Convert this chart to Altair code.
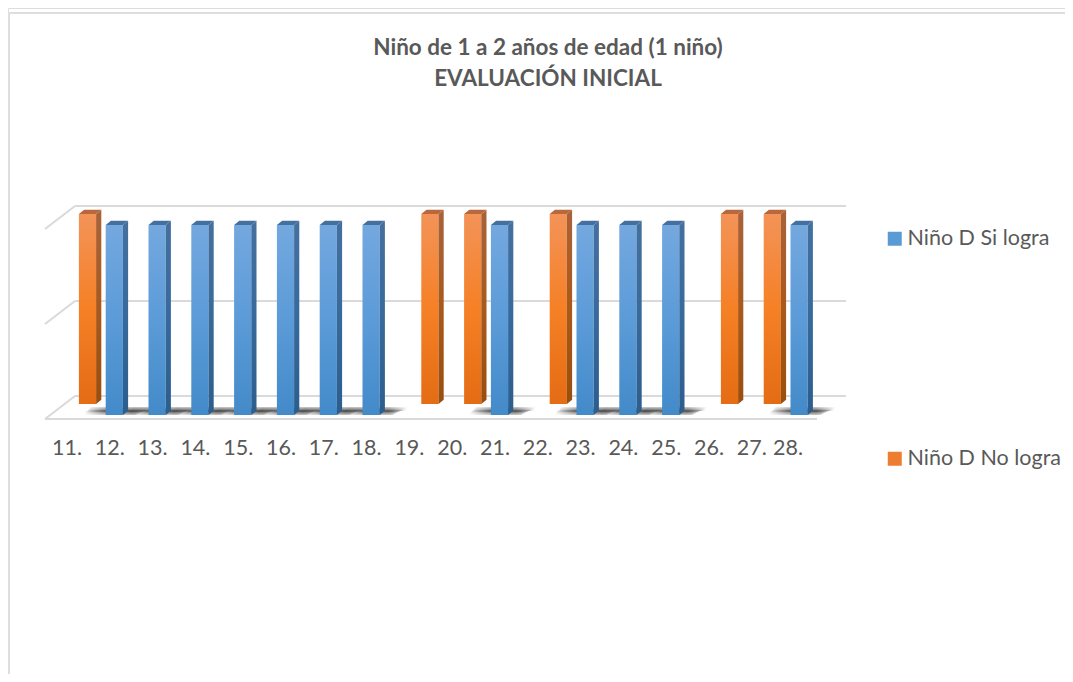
import altair as alt
import pandas as pd

# ---- values ----
categories = ["11.", "12.", "13.", "14.", "15.", "16.", "17.", "18.", "19.",
              "20.", "21.", "22.", "23.", "24.", "25.", "26.", "27.", "28."]
si_logra = [0, 1, 1, 1, 1, 1, 1, 1, 0, 0, 1, 0, 1, 1, 1, 0, 0, 1]
no_logra = [1, 0, 0, 0, 0, 0, 0, 0, 1, 1, 0, 1, 0, 0, 0, 1, 1, 0]
gridlines = [0, 0.5, 1]
series_names = ["Niño D Si logra", "Niño D No logra"]
title_lines = ["Niño de 1 a 2 años de edad (1 niño)", "EVALUACIÓN INICIAL"]

# ---- geometry of the faux-3D drawing ----
W, H = 1057, 666
STEP, UNIT = 42.8, 190.0          # pixels per category / per value unit
X0, Y0 = 79.5, 407.0              # plot pixel of category 0 (orange centre) / value 0 (front plane)
xdom = [-X0 / STEP, (W - X0) / STEP]
ydom = [-(H - Y0) / UNIT, Y0 / UNIT]
dx = lambda p: p / STEP
dy = lambda p: p / UNIT
BAR = dx(17.2)

xs = alt.Scale(domain=xdom, nice=False, zero=False)
ys = alt.Scale(domain=ydom, nice=False, zero=False)
X = lambda f: alt.X(f, type="quantitative", scale=xs, axis=None)
Y = lambda f: alt.Y(f, type="quantitative", scale=ys, axis=None)


def grad(stops, horizontal=False):
    return alt.Gradient(
        gradient="linear", x1=0, y1=0,
        x2=1 if horizontal else 0, y2=0 if horizontal else 1,
        stops=[alt.GradientStop(offset=o, color=c) for o, c in stops],
    )


# series depth: orange sits behind the blue one
def faces(values, shift_x, shift_y):
    front, side, top = [], [], []
    for i, v in enumerate(values):
        if not v:
            continue
        l = i + dx(shift_x) - BAR / 2
        r = l + BAR
        b = dy(shift_y)
        t = v + dy(shift_y)
        front.append(dict(l=l, r=r, b=b, t=t, id=i))
        d_x, d_y = dx(5.2), dy(4.2)
        side += [dict(x=r, y=b, y2=t, id=i), dict(x=r + d_x, y=b + d_y, y2=t + d_y, id=i)]
        top += [dict(y=t, x=l, x2=r, id=i), dict(y=t + d_y, x=l + d_x, x2=r + d_x, id=i)]
    return pd.DataFrame(front), pd.DataFrame(side), pd.DataFrame(top)


def bars(values, sx, sy, front_c, side_c, top_c):
    f, s, t = faces(values, sx, sy)
    return [
        alt.Chart(f).mark_rect(color=grad(front_c)).encode(x=X("l"), x2="r", y=Y("b"), y2="t"),
        alt.Chart(s).mark_area(color=grad(side_c), orient="vertical", opacity=1).encode(
            x=X("x"), y=Y("y"), y2="y2", detail="id:N"),
        alt.Chart(t).mark_area(color=top_c, orient="horizontal", opacity=1).encode(
            y=Y("y"), x=X("x"), x2="x2", detail="id:N"),
    ]


orange = bars(no_logra, 0, 11,
              [(0, "#F39358"), (0.5, "#F58026"), (1, "#E46C14")],
              [(0, "#A9623A"), (0.5, "#A9591B"), (1, "#9A4E0E")], "#B8683C")
blue = bars(si_logra, -16.0, 0,
            [(0, "#74A8DF"), (0.5, "#5B9BD8"), (1, "#438AC9")],
            [(0, "#44709F"), (0.5, "#376A9C"), (1, "#2B5D8D")], "#44709F")

# walls, floor and frame
FRONT = dy(-4)                    # front floor edge is just below the bars
BX, BY = dx(30), dy(23)           # depth of the floor
LEFT = -X0 / STEP + dx(37)        # x of the front-left corner
RIGHT_FRONT = LEFT + dx(772)
RIGHT_BACK = LEFT + dx(801)
rows = []
for g in gridlines:
    rows += [dict(x=LEFT, y=g + FRONT, k=f"s{g}"), dict(x=LEFT + BX, y=g + FRONT + BY, k=f"s{g}")]
    rows += [dict(x=LEFT + BX, y=g + FRONT + BY, k=f"b{g}"), dict(x=RIGHT_BACK, y=g + FRONT + BY, k=f"b{g}")]
rows += [dict(x=LEFT, y=FRONT, k="f"), dict(x=RIGHT_FRONT, y=FRONT, k="f")]
grid = alt.Chart(pd.DataFrame(rows)).mark_line(color="#DADADA", strokeWidth=2.2).encode(
    x=X("x"), y=Y("y"), detail="k:N", order="x:Q")

frame_rows = [
    dict(x=xdom[0], y=ydom[1] - dy(5), k="top"), dict(x=xdom[1], y=ydom[1] - dy(5), k="top"),
    dict(x=xdom[0] + dx(1), y=ydom[1] - dy(5), k="left"), dict(x=xdom[0] + dx(1), y=ydom[0], k="left"),
]
frame = alt.Chart(pd.DataFrame(frame_rows)).mark_line(color="#DEDEDE", strokeWidth=2).encode(
    x=X("x"), y=Y("y"), detail="k:N", order="y:Q")


# soft shadows on the floor under the blue bars: stacked translucent bands
def shadow_layer(inset, alpha):
    rows = []
    for i, v in enumerate(si_logra):
        if v:
            l = i + dx(-16.0) - BAR / 2
            rows += [
                dict(y=dy(inset), x=l + dx(-22), x2=l + dx(30), id=i),
                dict(y=dy(8 - inset), x=l + dx(-15), x2=l + dx(46), id=i),
            ]
    c = "50,50,50"
    return alt.Chart(pd.DataFrame(rows)).mark_area(
        orient="horizontal",
        color=grad([(0, f"rgba({c},0)"), (0.36, f"rgba({c},{alpha})"),
                    (0.7, f"rgba({c},{alpha})"), (1, f"rgba({c},0)")], horizontal=True),
    ).encode(y=Y("y"), x=X("x"), x2="x2", detail="id:N")


shadows = [shadow_layer(0, 0.3), shadow_layer(1.5, 0.4), shadow_layer(3, 0.5)]

# category labels (the last one sits closer to its neighbour in the reference)
labels = pd.DataFrame({
    "cat": categories,
    "x": [i + dx(-20.5) + (dx(-6.5) if c == "28." else 0) for i, c in enumerate(categories)],
    "y": dy(-34),
})
label_text = alt.Chart(labels).mark_text(
    font="Lato", fontSize=21.5, color="#595959", baseline="middle", align="center"
).encode(x=X("x"), y=Y("y"), text="cat:N")

# legend, real one, with wide row spacing
legend_src = alt.Chart(pd.DataFrame({"s": series_names, "x": [0, 0], "y": [0, 0]})).mark_square(
    size=0, opacity=0
).encode(
    x=X("x"), y=Y("y"),
    color=alt.Color(
        "s:N",
        scale=alt.Scale(domain=series_names, range=["#5B9BD5", "#ED7D31"]),
        legend=alt.Legend(
            title=None, orient="none", legendX=876, legendY=220, direction="vertical",
            symbolType="square", symbolSize=196, symbolOpacity=1, symbolStrokeWidth=0,
            labelFont="Lato", labelFontSize=21.5, labelColor="#595959",
            rowPadding=197, labelOffset=2, padding=0,
        ),
    ),
)

chart = alt.layer(frame, grid, *shadows, *orange, *blue, label_text, legend_src).properties(
    width=W, height=H, padding=0,
    autosize=alt.AutoSizeParams(type="none"),
    title=alt.TitleParams(
        text=title_lines, anchor="middle", dx=11.5, offset=-82, baseline="top",
        font="Lato", fontSize=22.5, fontWeight="bold", color="#595959", lineHeight=31,
    ),
).configure_view(stroke=None).configure(background="white")

chart.save("out.html", embed_options={"renderer": "svg", "actions": False})
